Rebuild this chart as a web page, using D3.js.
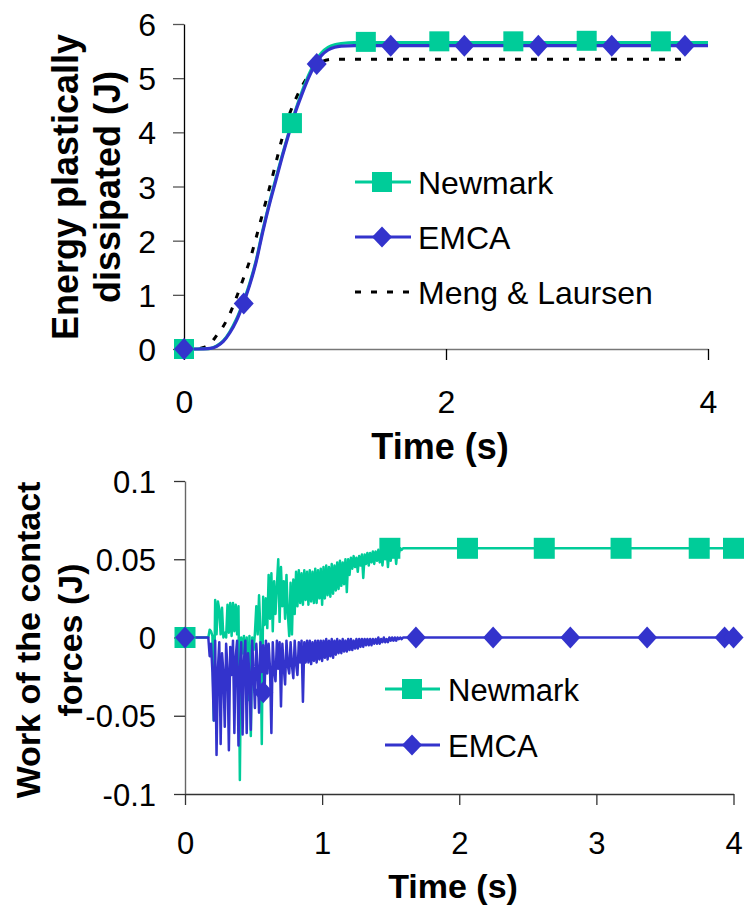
<!DOCTYPE html>
<html><head><meta charset="utf-8">
<script src="https://cdn.jsdelivr.net/npm/d3@7"></script>
<style>
body{margin:0;background:#fff}
text{font-family:"Liberation Sans",Arial,Helvetica,sans-serif;fill:#000}
</style>
</head><body>
<svg id="c" width="746" height="908"></svg>
<script>
// ---------- TOP CHART DATA: Energy plastically dissipated (J) ----------
const energyTime     = [0, 0.1, 0.15, 0.2, 0.25, 0.3, 0.35, 0.4, 0.45, 0.5, 0.55, 0.6, 0.65, 0.7, 0.75, 0.8, 0.85, 0.9, 0.95, 1.0, 1.05, 1.1, 1.15, 1.2, 1.3, 1.4, 1.6, 2, 3, 4];
const energyNewmark  = [0, 0, 0.003, 0.01, 0.06, 0.15, 0.32, 0.55, 0.85, 1.2, 1.63, 2.18, 2.68, 3.14, 3.58, 4.0, 4.4, 4.75, 5.05, 5.3, 5.47, 5.57, 5.62, 5.64, 5.66, 5.66, 5.66, 5.66, 5.66, 5.66];
const energyEMCA     = [0, 0, 0.002, 0.01, 0.05, 0.14, 0.3, 0.52, 0.82, 1.17, 1.6, 2.15, 2.65, 3.1, 3.55, 3.97, 4.37, 4.7, 5.0, 5.25, 5.42, 5.52, 5.57, 5.59, 5.6, 5.6, 5.6, 5.6, 5.6, 5.6];
const mengTime       = [0, 0.1, 0.15, 0.2, 0.25, 0.3, 0.35, 0.4, 0.45, 0.5, 0.55, 0.6, 0.65, 0.7, 0.75, 0.8, 0.85, 0.9, 0.95, 1.0, 1.05, 1.1, 1.15, 2, 3, 3.87];
const mengLaursen    = [0, 0.005, 0.03, 0.1, 0.25, 0.42, 0.65, 0.95, 1.28, 1.62, 2.05, 2.5, 2.95, 3.42, 3.9, 4.3, 4.6, 4.85, 5.05, 5.22, 5.3, 5.34, 5.35, 5.35, 5.35, 5.35];
const energyNewmarkMarkT = [0, 0.824, 1.388, 1.949, 2.514, 3.074, 3.64];
const energyNewmarkMarkV = [0, 4.17, 5.67, 5.68, 5.68, 5.69, 5.68];
const energyEMCAMarkT    = [0, 0.456, 1.013, 1.578, 2.14, 2.705, 3.265, 3.824];
const energyEMCAMarkV    = [0, 0.84, 5.26, 5.6, 5.6, 5.6, 5.6, 5.6];
const energyYTicks = [0, 1, 2, 3, 4, 5, 6];
const energyXTicks = [0, 2, 4];

// ---------- BOTTOM CHART DATA: Work of the contact forces (J) ----------
const workTime = [0,
  0.17, 0.18, 0.19,
  0.20, 0.21, 0.22, 0.23, 0.24, 0.25, 0.26, 0.27, 0.28, 0.29,
  0.30, 0.31, 0.32, 0.33, 0.34, 0.35, 0.36, 0.37, 0.38, 0.39,
  0.40, 0.41, 0.42, 0.43, 0.44, 0.45, 0.46, 0.47, 0.48, 0.49,
  0.50, 0.51, 0.52, 0.53, 0.54, 0.55, 0.56, 0.57, 0.58, 0.59,
  0.60, 0.61, 0.62, 0.63, 0.64, 0.65, 0.66, 0.67, 0.68, 0.69,
  0.70, 0.71, 0.72, 0.73, 0.74, 0.75, 0.76, 0.77, 0.78, 0.79,
  0.80, 0.81, 0.82, 0.83, 0.84, 0.85, 0.86, 0.87, 0.88, 0.89,
  0.90, 0.91, 0.92, 0.93, 0.94, 0.95, 0.96, 0.97, 0.98, 0.99,
  1.00, 1.01, 1.02, 1.03, 1.04, 1.05, 1.06, 1.07, 1.08, 1.09,
  1.10, 1.11, 1.12, 1.13, 1.14, 1.15, 1.16, 1.17, 1.18, 1.19,
  1.20, 1.21, 1.22, 1.23, 1.24, 1.25, 1.26, 1.27, 1.28, 1.29,
  1.30, 1.31, 1.32, 1.33, 1.34, 1.35, 1.36, 1.37, 1.38, 1.39,
  1.40, 1.41, 1.42, 1.43, 1.44, 1.45, 1.46, 1.47, 1.48, 1.49,
  1.50, 1.51, 1.52, 1.53, 1.54, 1.55, 1.56, 1.57, 1.58, 1.59,
  1.60, 2, 3, 4];
const workNewmark = [0,
  0, .005, .004,
  .001, -.053, .024, .002, .023, .018, .002, .019, 0, .003,
  0, .021, .003, .022, .001, .022, .004, .021, .002, .020,
  -.091, 0, -.010, .001, -.020, 0, -.040, .001, -.063, 0,
  -.008, .003, .020, .002, .027, .004, -.068, .026, .008, .025,
  .006, .040, .012, .041, .004, .036, .015, .033, .050, .010,
  .045, .020, .036, .012, .040, .015, .001, .035, .002, .037,
  .015, .042, .020, .043, .022, .041, .021, .043, .024, .042,
  .021, .043, .023, .042, .022, .044, .022, .043, .025, .044,
  .021, .045, .025, .046, .027, .045, .026, .047, .028, .046,
  .030, .048, .031, .049, .033, .048, .034, .050, .029, .050,
  .040, .051, .044, .052, .045, .051, .042, .052, .046, .053,
  .038, .053, .047, .054, .046, .054, .048, .055, .047, .055,
  .049, .056, .048, .056, .046, .056, .050, .057, .045, .057,
  .049, .057, .052, .057, .047, .057, .054, .057, .056, .057,
  .057, .057, .057, .057];
const workEMCA = [0,
  0, -.012, -.004,
  -.022, -.053, -.002, -.075, -.020, -.003, -.068, -.010, -.022, -.057,
  -.004, -.020, -.072, -.006, -.024, -.002, -.061, -.012, -.002, -.069,
  -.020, -.003, -.062, -.015, -.002, -.061, -.010, -.024, -.059, -.002,
  -.022, -.045, -.004, -.020, -.048, -.003, -.022, -.005, -.036, -.002,
  -.023, -.004, -.020, -.061, -.003, -.021, -.028, -.002, -.020, -.003,
  -.044, -.004, -.019, -.030, -.002, -.018, -.023, -.003, -.018, -.026,
  -.002, -.017, -.024, -.003, -.016, -.002, -.041, -.003, -.016, -.002,
  -.016, -.002, -.017, -.003, -.015, -.002, -.016, -.002, -.014, -.002,
  -.015, -.002, -.013, -.001, -.014, -.002, -.012, -.001, -.013, -.002,
  -.011, -.001, -.010, -.002, -.010, -.001, -.009, -.002, -.009, -.001,
  -.008, -.001, -.008, -.002, -.007, -.001, -.007, -.001, -.006, -.001,
  -.006, -.001, -.005, -.001, -.005, -.001, -.005, -.001, -.004, -.001,
  -.004, 0, -.004, -.001, -.003, 0, -.003, -.001, -.003, 0,
  -.002, 0, -.002, 0, -.002, 0, -.001, 0, -.001, 0,
  0, 0, 0, 0];
const workNewmarkMarkT = [0, 1.494, 2.06, 2.62, 3.18, 3.75, 4.0];
const workNewmarkMarkV = [0, 0.057, 0.057, 0.057, 0.057, 0.057, 0.057];
const workEMCAMarkT    = [0, 0.571, 1.684, 2.247, 2.81, 3.37, 3.935, 4.0];
const workEMCAMarkV    = [0, -0.035, 0, 0, 0, 0, 0, 0];
const workYTicks  = [-0.1, -0.05, 0, 0.05, 0.1];
const workYLabels = ["-0.1", "-0.05", "0", "0.05", "0.1"];
const workXTicks  = [0, 1, 2, 3, 4];

const seriesNames = ["Newmark", "EMCA", "Meng & Laursen"];

// ---------- STYLE ----------
const GREEN = "#00CC99", BLUE = "#3333CC";
const svg = d3.select("#c");

function square(g, x, y, s, color) {
  g.append("rect").attr("x", x - s/2).attr("y", y - s/2).attr("width", s).attr("height", s).attr("fill", color);
}
function diamond(g, x, y, rx, ry, color) {
  g.append("path").attr("d", `M${x},${y-ry}L${x+rx},${y}L${x},${y+ry}L${x-rx},${y}Z`).attr("fill", color);
}
function zip(a, b) { return a.map((d, i) => [d, b[i]]); }

// ================= TOP CHART =================
{
  const x = d3.scaleLinear().domain([0, 4]).range([184, 708]);
  const y = d3.scaleLinear().domain([0, 6]).range([349, 24]);
  const g = svg.append("g");

  // axes
  const ya = g.append("g").attr("transform", `translate(${x(0)},0)`)
    .call(d3.axisLeft(y).tickValues(energyYTicks).tickFormat(d3.format("d")).tickSize(11).tickSizeOuter(0).tickPadding(17));
  ya.select(".domain").attr("stroke", "#000").attr("stroke-width", 1.3);
  ya.selectAll(".tick line").attr("stroke", "#555").attr("stroke-width", 1.3);
  ya.selectAll("text").style("font-size", "32px").attr("dy", "0.36em");

  const xa = g.append("g").attr("transform", `translate(0,${y(0)})`)
    .call(d3.axisBottom(x).tickValues(energyXTicks).tickFormat(d3.format("d")).tickSize(11).tickSizeOuter(0).tickPadding(30));
  xa.select(".domain").attr("stroke", "#777").attr("stroke-width", 1.6);
  xa.selectAll(".tick line").attr("stroke", "#000").attr("stroke-width", 1.3);
  xa.selectAll("text").style("font-size", "32px");

  // titles
  g.append("text").attr("transform", `translate(440,459)`).attr("text-anchor", "middle")
    .style("font-size", "36px").style("font-weight", "bold").text("Time (s)");
  g.append("text").attr("transform", `translate(78,187) rotate(-90)`).attr("text-anchor", "middle")
    .style("font-size", "36px").style("font-weight", "bold").text("Energy plastically");
  g.append("text").attr("transform", `translate(120,187) rotate(-90)`).attr("text-anchor", "middle")
    .style("font-size", "36px").style("font-weight", "bold").text("dissipated (J)");

  const line = d3.line().x(d => x(d[0])).y(d => y(d[1])).curve(d3.curveMonotoneX);
  g.append("path").attr("d", line(zip(mengTime, mengLaursen))).attr("fill", "none")
    .attr("stroke", "#000").attr("stroke-width", 3).attr("stroke-dasharray", "6,10");
  g.append("path").attr("d", line(zip(energyTime, energyNewmark))).attr("fill", "none")
    .attr("stroke", GREEN).attr("stroke-width", 3);
  g.append("path").attr("d", line(zip(energyTime, energyEMCA))).attr("fill", "none")
    .attr("stroke", BLUE).attr("stroke-width", 3.2);

  energyNewmarkMarkT.forEach((t, i) => square(g, x(t), y(energyNewmarkMarkV[i]), 20, GREEN));
  energyEMCAMarkT.forEach((t, i) => diamond(g, x(t), y(energyEMCAMarkV[i]), 10, 11, BLUE));

  // legend
  const lg = g.append("g");
  const rows = [182, 237, 292];
  seriesNames.forEach((name, i) => {
    const yy = rows[i];
    if (i === 2) {
      lg.append("line").attr("x1", 355).attr("x2", 411).attr("y1", yy).attr("y2", yy)
        .attr("stroke", "#000").attr("stroke-width", 3).attr("stroke-dasharray", "6,10");
    } else {
      lg.append("line").attr("x1", 355).attr("x2", 411).attr("y1", yy).attr("y2", yy)
        .attr("stroke", i === 0 ? GREEN : BLUE).attr("stroke-width", 3);
      if (i === 0) square(lg, 382, yy, 20, GREEN); else diamond(lg, 382, yy, 10, 10.5, BLUE);
    }
    lg.append("text").attr("x", 418).attr("y", yy + 11.5).style("font-size", "32px").text(name);
  });
}

// ================= BOTTOM CHART =================
{
  const x = d3.scaleLinear().domain([0, 4]).range([185, 733.5]);
  const y = d3.scaleLinear().domain([-0.1, 0.1]).range([794, 481]);
  const g = svg.append("g");

  const ya = g.append("g").attr("transform", `translate(${x(0)},0)`)
    .call(d3.axisLeft(y).tickValues(workYTicks).tickFormat((d, i) => workYLabels[workYTicks.indexOf(d)]).tickSize(11).tickSizeOuter(0).tickPadding(18));
  ya.select(".domain").attr("stroke", "#666").attr("stroke-width", 1.4);
  ya.selectAll(".tick line").attr("stroke", "#333").attr("stroke-width", 1.3);
  ya.selectAll("text").style("font-size", "31px").attr("dy", "0.36em");

  const xa = g.append("g").attr("transform", `translate(0,${y(-0.1)})`)
    .call(d3.axisBottom(x).tickValues(workXTicks).tickFormat(d3.format("d")).tickSize(11).tickSizeOuter(0).tickPadding(27));
  xa.select(".domain").attr("stroke", "#333").attr("stroke-width", 1.4);
  xa.selectAll(".tick line").attr("stroke", "#333").attr("stroke-width", 1.3);
  xa.selectAll("text").style("font-size", "31px");

  g.append("text").attr("transform", `translate(453,898)`).attr("text-anchor", "middle")
    .style("font-size", "34px").style("font-weight", "bold").text("Time (s)");
  g.append("text").attr("transform", `translate(40,640) rotate(-90)`).attr("text-anchor", "middle")
    .style("font-size", "34px").style("font-weight", "bold").text("Work of the contact");
  g.append("text").attr("transform", `translate(82,640) rotate(-90)`).attr("text-anchor", "middle")
    .style("font-size", "34px").style("font-weight", "bold").text("forces (J)");

  const line = d3.line().x(d => x(d[0])).y(d => y(d[1]));
  g.append("path").attr("d", line(zip(workTime, workNewmark))).attr("fill", "none")
    .attr("stroke", GREEN).attr("stroke-width", 2.5).attr("stroke-linejoin", "round");
  g.append("path").attr("d", line(zip(workTime, workEMCA))).attr("fill", "none")
    .attr("stroke", BLUE).attr("stroke-width", 2.5).attr("stroke-linejoin", "round");

  workNewmarkMarkT.forEach((t, i) => square(g, x(t), y(workNewmarkMarkV[i]), 21, GREEN));
  workEMCAMarkT.forEach((t, i) => diamond(g, x(t), y(workEMCAMarkV[i]), 10, 11, BLUE));

  const lg = g.append("g");
  const rows = [689, 745];
  seriesNames.slice(0, 2).forEach((name, i) => {
    const yy = rows[i];
    lg.append("line").attr("x1", 385).attr("x2", 440).attr("y1", yy).attr("y2", yy)
      .attr("stroke", i === 0 ? GREEN : BLUE).attr("stroke-width", 3);
    if (i === 0) square(lg, 412, yy, 20, GREEN); else diamond(lg, 412, yy, 10, 10.5, BLUE);
    lg.append("text").attr("x", 448).attr("y", yy + 11.5).style("font-size", "31px").text(name);
  });
}
</script>
</body></html>
